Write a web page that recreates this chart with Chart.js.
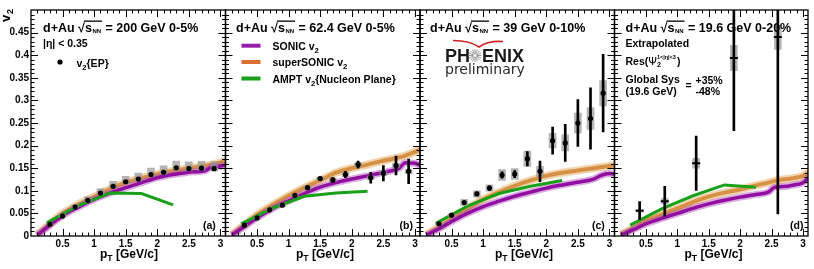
<!DOCTYPE html>
<html>
<head>
<meta charset="utf-8">
<script src="https://cdn.jsdelivr.net/npm/chart.js@4.4.1/dist/chart.umd.min.js"></script>
<style>
html, body { margin: 0; padding: 0; background: #fff; }
#wrap { position: relative; width: 814px; height: 269px; }
canvas { position: absolute; left: 0; top: 0; }
</style>
</head>
<body>
<div id="wrap">
<canvas id="pa" width="814" height="269"></canvas>
<canvas id="pb" width="814" height="269"></canvas>
<canvas id="pc" width="814" height="269"></canvas>
<canvas id="pd" width="814" height="269"></canvas>
</div>
<script>
const FONT = '"Liberation Sans", Arial, Helvetica, sans-serif'

// pT bin centres of the measured points
const ptBins = [0.3, 0.5, 0.7, 0.9, 1.1, 1.3, 1.5, 1.7, 1.9, 2.1, 2.3, 2.5, 2.7, 2.9]
const ptBins19 = [0.4, 0.8, 1.3, 1.9, 2.6]

// 200 GeV 0-5%
const v2_200 = [0.026, 0.044, 0.064, 0.079, 0.095, 0.110, 0.120, 0.126, 0.136, 0.141, 0.151, 0.149, 0.150, 0.149]
const sysUp_200 = [0.002, 0.004, 0.006, 0.008, 0.010, 0.011, 0.012, 0.013, 0.014, 0.014, 0.015, 0.015, 0.015, 0.015]
const sysDown_200 = [0.001, 0.001, 0.002, 0.002, 0.003, 0.003, 0.004, 0.004, 0.004, 0.004, 0.005, 0.005, 0.005, 0.005]

// 62.4 GeV 0-5%
const v2_62 = [0.024, 0.040, 0.058, 0.068, 0.090, 0.107, 0.127, 0.124, 0.136, 0.158, 0.129, 0.139, 0.156, 0.143]
const stat_62 = [0.001, 0.001, 0.002, 0.002, 0.002, 0.003, 0.004, 0.005, 0.007, 0.008, 0.012, 0.017, 0.021, 0.027]
const sys_62 = [0.001, 0.002, 0.002, 0.003, 0.003, 0.004, 0.004, 0.004, 0.005, 0.005, 0.004, 0.005, 0.005, 0.005]

// 39 GeV 0-10%
const v2_39 = [0.027, 0.046, 0.074, 0.093, 0.106, 0.135, 0.137, 0.171, 0.143, 0.211, 0.206, 0.250, 0.260, 0.316]
const stat_39 = [0.002, 0.003, 0.003, 0.004, 0.005, 0.007, 0.008, 0.016, 0.023, 0.030, 0.041, 0.052, 0.068, 0.086]
const sys_39 = [0.002, 0.003, 0.007, 0.007, 0.007, 0.012, 0.012, 0.017, 0.011, 0.016, 0.018, 0.022, 0.024, 0.028]

// 19.6 GeV 0-20%
const v2_19 = [0.056, 0.077, 0.161, 0.394, 0.440]
const stat_19 = [0.020, 0.033, 0.060, 0.161, 0.391]
const sys_19 = [0.003, 0.006, 0.011, 0.028, 0.027]

// hydro curves (SONIC / superSONIC)
const ptTheory = [0.1, 0.3, 0.5, 0.75, 1.0, 1.25, 1.5, 1.75, 2.0, 2.25, 2.45, 2.55, 2.75, 2.85, 3.0, 3.1]
const sonic_200 = [0.002, 0.024, 0.045, 0.064, 0.081, 0.095, 0.107, 0.118, 0.129, 0.136, 0.140, 0.142, 0.144, 0.152, 0.155, 0.157]
const super_200 = [0.003, 0.027, 0.050, 0.070, 0.087, 0.104, 0.118, 0.128, 0.137, 0.144, 0.149, 0.151, 0.155, 0.158, 0.163, 0.168]
const sonic_62 = [0.002, 0.021, 0.040, 0.061, 0.078, 0.094, 0.108, 0.118, 0.126, 0.133, 0.139, 0.142, 0.150, 0.162, 0.161, 0.155]
const super_62 = [0.003, 0.025, 0.047, 0.069, 0.089, 0.107, 0.123, 0.140, 0.150, 0.158, 0.165, 0.168, 0.174, 0.178, 0.186, 0.193]
const sonic_39 = [0.002, 0.016, 0.032, 0.050, 0.065, 0.077, 0.088, 0.097, 0.106, 0.113, 0.118, 0.120, 0.126, 0.133, 0.138, 0.137]
const super_39 = [0.003, 0.020, 0.038, 0.060, 0.081, 0.097, 0.111, 0.123, 0.133, 0.140, 0.144, 0.146, 0.150, 0.152, 0.155, 0.157]
const sonic_19 = [0.002, 0.014, 0.027, 0.039, 0.050, 0.061, 0.071, 0.079, 0.086, 0.092, 0.097, 0.108, 0.110, 0.113, 0.118, 0.131]
const super_19 = [0.003, 0.018, 0.034, 0.048, 0.061, 0.075, 0.087, 0.096, 0.103, 0.112, 0.118, 0.122, 0.126, 0.128, 0.133, 0.142]

// AMPT
const ptAmpt = [0.25, 0.75, 1.25, 1.75, 2.25]
const ampt_200 = [0.029, 0.067, 0.095, 0.094, 0.069]
const ampt_62 = [0.027, 0.062, 0.088, 0.095, 0.099]
const ampt_39 = [0.028, 0.066, 0.094, 0.110, 0.123]
const ampt_19 = [0.024, 0.060, 0.089, 0.113, 0.108]

const PURPLE = 'rgb(145,15,160)'
const ORANGE = 'rgb(214,145,70)'
const GREEN = 'rgb(25,160,25)'

function pts(xs, ys) {
    return xs.map((x, i) => ({x: x, y: ys[i]}))
}
function ranges(xs, ys, down, up) {
    return xs.map((x, i) => ({x: x, y: [ys[i] - down[i], ys[i] + up[i]]}))
}

function theory(sonic, supersonic, ampt) {
    let common = {type: 'line', pointRadius: 0, fill: false, clip: 0, cubicInterpolationMode: 'monotone'}
    return [
        {...common, data: pts(ptTheory, supersonic), borderColor: 'rgba(230,178,110,0.55)', borderWidth: 8, order: 9},
        {...common, data: pts(ptTheory, supersonic), borderColor: ORANGE, borderWidth: 4, order: 8},
        {...common, data: pts(ptTheory, sonic), borderColor: 'rgba(175,70,190,0.45)', borderWidth: 7, order: 7},
        {...common, data: pts(ptTheory, sonic), borderColor: PURPLE, borderWidth: 3.5, order: 6},
        {type: 'line', pointRadius: 0, fill: false, clip: 0, data: pts(ptAmpt, ampt), borderColor: GREEN, borderWidth: 3, order: 5}
    ]
}

function sysBoxes(xs, ys, down, up) {
    return {type: 'bar', grouped: false, clip: 0, barThickness: 7, backgroundColor: 'rgba(150,150,150,0.7)',
            borderWidth: 0, data: ranges(xs, ys, down, up), order: 4}
}
function statBars(xs, ys, err) {
    return {type: 'bar', grouped: false, clip: 0, barThickness: 2, backgroundColor: '#000',
            borderWidth: 0, data: ranges(xs, ys, err, err), order: 3}
}
function points(xs, ys, style) {
    let ds = {type: 'line', showLine: false, clip: 0, data: pts(xs, ys), order: 1,
              pointRadius: 2.6, pointBackgroundColor: '#000', pointBorderColor: '#000', pointBorderWidth: 0}
    if (style == 'line') {
        ds.pointStyle = 'line'
        ds.pointRadius = 4
        ds.pointBorderWidth = 2
    }
    return ds
}

function makeScales(showY) {
    return {
        x: {
            type: 'linear', min: 0, max: 3.08, offset: false,
            grid: {display: false, drawTicks: false, offset: false}, border: {display: false},
            ticks: {
                stepSize: 0.5, includeBounds: false, autoSkip: false, maxRotation: 0, padding: 2, color: '#000',
                font: {family: FONT, size: 10, weight: 'bold'},
                callback: (v) => v < 0.01 ? '' : String(Math.round(v * 10) / 10)
            },
            afterFit: (s) => { s.height = 33 }
        },
        y: {
            type: 'linear', min: 0, max: 0.5, display: showY,
            grid: {display: false, drawTicks: false}, border: {display: false},
            ticks: {
                stepSize: 0.05, includeBounds: false, autoSkip: false, padding: 2, color: '#000',
                font: {family: FONT, size: 10, weight: 'bold'},
                callback: (v) => v > 0.49 ? '' : String(Math.round(v * 100) / 100)
            },
            afterFit: (s) => { s.width = showY ? 31 : 0 }
        }
    }
}

// frame with inside ticks on all four sides
const framePlugin = {
    id: 'frame',
    afterDatasetsDraw(chart) {
        const ctx = chart.ctx
        const a = chart.chartArea
        const x = chart.scales.x
        const y = chart.scales.y
        ctx.save()
        ctx.strokeStyle = '#000'
        ctx.lineWidth = 1
        ctx.beginPath()
        for (let i = 1; i * 0.1 < x.max; i++) {
            const px = Math.round(x.getPixelForValue(i * 0.1)) + 0.5
            const len = i % 5 == 0 ? 7 : 3.5
            ctx.moveTo(px, a.bottom); ctx.lineTo(px, a.bottom - len)
            ctx.moveTo(px, a.top); ctx.lineTo(px, a.top + len)
        }
        for (let j = 1; j * 0.01 < y.max - 0.001; j++) {
            const py = Math.round(y.getPixelForValue(j * 0.01)) + 0.5
            const len = j % 5 == 0 ? 7 : 3.5
            ctx.moveTo(a.left, py); ctx.lineTo(a.left + len, py)
            ctx.moveTo(a.right, py); ctx.lineTo(a.right - len, py)
        }
        ctx.stroke()
        ctx.lineWidth = 1.3
        ctx.strokeRect(a.left, a.top, a.right - a.left, a.bottom - a.top)
        ctx.restore()
    }
}

function header(ctx, x, energy) {
    const y = 31.5
    ctx.font = 'bold 12.5px ' + FONT
    ctx.fillText('d+Au', x, y)
    x += ctx.measureText('d+Au ').width
    ctx.fillText('\u221A', x, y)
    const sx = x + ctx.measureText('\u221A').width - 1
    x = sx + 1
    ctx.fillText('s', x, y)
    x += ctx.measureText('s').width
    ctx.font = 'bold 6px ' + FONT
    ctx.fillText('NN', x + 0.5, y + 1.5)
    x += ctx.measureText('NN').width + 1.5
    ctx.fillRect(sx, y - 11, x - sx, 1.3)
    ctx.font = 'bold 12.5px ' + FONT
    ctx.fillText(' = ' + energy, x, y)
}

// text with a subscript in the middle, e.g. v_2{EP}
function subText(ctx, base, sub, rest, x, y, size) {
    ctx.font = 'bold ' + size + 'px ' + FONT
    ctx.fillText(base, x, y)
    x += ctx.measureText(base).width
    ctx.font = 'bold ' + (size * 0.72) + 'px ' + FONT
    ctx.fillText(sub, x, y + 3)
    x += ctx.measureText(sub).width
    ctx.font = 'bold ' + size + 'px ' + FONT
    ctx.fillText(rest, x, y)
}

function ptTitle(ctx, x) {
    subText(ctx, 'p', 'T', ' [GeV/c]', x, 257.5, 12)
}

function drawA(ctx, L) {
    ctx.save()
    ctx.fillStyle = '#000'
    header(ctx, L + 12, '200 GeV 0-5%')
    ctx.font = 'bold 10.5px ' + FONT
    ctx.fillText('|\u03B7| < 0.35', L + 12, 47)
    ctx.beginPath()
    ctx.arc(L + 29, 62, 2.6, 0, 2 * Math.PI)
    ctx.fill()
    subText(ctx, 'v', '2', '{EP}', L + 45.5, 66.5, 10.5)
    ctx.font = 'bold 10.5px ' + FONT
    ctx.fillText('(a)', L + 172, 229)
    ptTitle(ctx, L + 69)
    // y axis title
    ctx.save()
    ctx.translate(10, 22)
    ctx.rotate(-Math.PI / 2)
    ctx.font = 'bold 13px ' + FONT
    ctx.fillText('v', 0, 0)
    ctx.font = 'bold 9px ' + FONT
    ctx.fillText('2', 8, 3)
    ctx.restore()
    ctx.restore()
}

function drawB(ctx, L) {
    ctx.save()
    ctx.fillStyle = '#000'
    header(ctx, L + 10.5, '62.4 GeV 0-5%')
    const rows = [
        [45.7, 'rgb(150,30,170)', 'SONIC ', '2', ''],
        [62, 'rgb(220,112,50)', 'superSONIC ', '2', ''],
        [78.5, GREEN, 'AMPT ', '2', '{Nucleon Plane}']
    ]
    for (let r of rows) {
        ctx.fillStyle = r[1]
        ctx.fillRect(L + 16, r[0] - 2, 19, 4)
        ctx.fillStyle = '#000'
        ctx.font = 'bold 10.5px ' + FONT
        ctx.fillText(r[2], L + 47, r[0] + 4)
        subText(ctx, 'v', r[3], r[4], L + 47 + ctx.measureText(r[2]).width, r[0] + 4, 10.5)
    }
    ctx.font = 'bold 10.5px ' + FONT
    ctx.fillText('(b)', L + 174, 229)
    ptTitle(ctx, L + 70.5)
    ctx.restore()
}

function drawC(ctx, L) {
    ctx.save()
    ctx.fillStyle = '#000'
    header(ctx, L + 10, '39 GeV 0-10%')
    // PHENIX preliminary mark
    ctx.font = 'bold 18px ' + FONT
    ctx.fillStyle = '#1a1a1a'
    ctx.fillText('PH', L + 25, 62)
    ctx.fillText('ENIX', L + 62, 62)
    const cx = L + 55, cy = 55.5
    ctx.strokeStyle = '#9a9a9a'
    ctx.lineWidth = 1
    ctx.beginPath()
    for (let k = 0; k < 16; k++) {
        const t = k * Math.PI / 8
        ctx.moveTo(cx + 1.5 * Math.cos(t), cy + 1.5 * Math.sin(t))
        ctx.lineTo(cx + 6.5 * Math.cos(t), cy + 6.5 * Math.sin(t))
    }
    ctx.stroke()
    ctx.strokeStyle = '#d42020'
    ctx.lineWidth = 1.6
    ctx.beginPath()
    ctx.moveTo(L + 33, 40.5)
    ctx.quadraticCurveTo(L + 50, 40.5, L + 59, 47)
    ctx.quadraticCurveTo(L + 68, 40.5, L + 83, 41.5)
    ctx.stroke()
    ctx.font = '14px "DejaVu Sans", sans-serif'
    ctx.fillStyle = '#2a2a2a'
    ctx.fillText('preliminary', L + 25, 74)
    ctx.fillStyle = '#000'
    ctx.font = 'bold 10.5px ' + FONT
    ctx.fillText('(c)', L + 172, 229)
    ptTitle(ctx, L + 75)
    ctx.restore()
}

function drawD(ctx, L) {
    ctx.save()
    ctx.fillStyle = '#000'
    header(ctx, L + 11, '19.6 GeV 0-20%')
    ctx.font = 'bold 10.5px ' + FONT
    ctx.fillText('Extrapolated', L + 11, 46.7)
    let x = L + 11
    ctx.fillText('Res(', x, 64.5)
    x += ctx.measureText('Res(').width
    ctx.font = '11px "DejaVu Sans", sans-serif'
    ctx.fillText('\u03A8', x, 64.5)
    x += ctx.measureText('\u03A8').width
    ctx.font = 'bold 5.5px ' + FONT
    ctx.fillText('1<|\u03B7|<3', x, 59)
    const supW = ctx.measureText('1<|\u03B7|<3').width
    ctx.font = 'bold 7px ' + FONT
    ctx.fillText('2', x, 67)
    x += supW + 1
    ctx.font = 'bold 10.5px ' + FONT
    ctx.fillText(')', x, 64.5)
    ctx.fillText('Global Sys', L + 11, 83)
    ctx.fillText('(19.6 GeV)', L + 11, 94.5)
    ctx.fillText('=', L + 71, 89)
    ctx.fillText('+35%', L + 81, 84)
    ctx.fillText('-48%', L + 81, 95)
    ctx.fillText('(d)', L + 175.5, 229)
    ptTitle(ctx, L + 70)
    ctx.restore()
}

function makeChart(id, L, R, showY, datasets, drawText) {
    return new Chart(document.getElementById(id), {
        type: 'line',
        data: {datasets: datasets},
        options: {
            responsive: false,
            animation: false,
            devicePixelRatio: 1,
            events: [],
            layout: {padding: {left: L, right: 814 - R, top: 10, bottom: 0}},
            plugins: {legend: {display: false}, tooltip: {enabled: false}},
            scales: makeScales(showY)
        },
        plugins: [framePlugin, {id: 'text_' + id, afterDraw: (c) => drawText(c.ctx, c.chartArea.left)}]
    })
}

makeChart('pa', 0, 225.5, true, [
    ...theory(sonic_200, super_200, ampt_200),
    sysBoxes(ptBins, v2_200, sysDown_200, sysUp_200),
    points(ptBins, v2_200)
], drawA)

makeChart('pb', 225.5, 420, false, [
    ...theory(sonic_62, super_62, ampt_62),
    sysBoxes(ptBins, v2_62, sys_62, sys_62),
    statBars(ptBins, v2_62, stat_62),
    points(ptBins, v2_62)
], drawB)

makeChart('pc', 420, 614.5, false, [
    ...theory(sonic_39, super_39, ampt_39),
    sysBoxes(ptBins, v2_39, sys_39, sys_39),
    statBars(ptBins, v2_39, stat_39),
    points(ptBins, v2_39)
], drawC)

makeChart('pd', 614.5, 809, false, [
    ...theory(sonic_19, super_19, ampt_19),
    sysBoxes(ptBins19, v2_19, sys_19, sys_19),
    statBars(ptBins19, v2_19, stat_19),
    points(ptBins19, v2_19, 'line')
], drawD)
</script>
</body>
</html>
